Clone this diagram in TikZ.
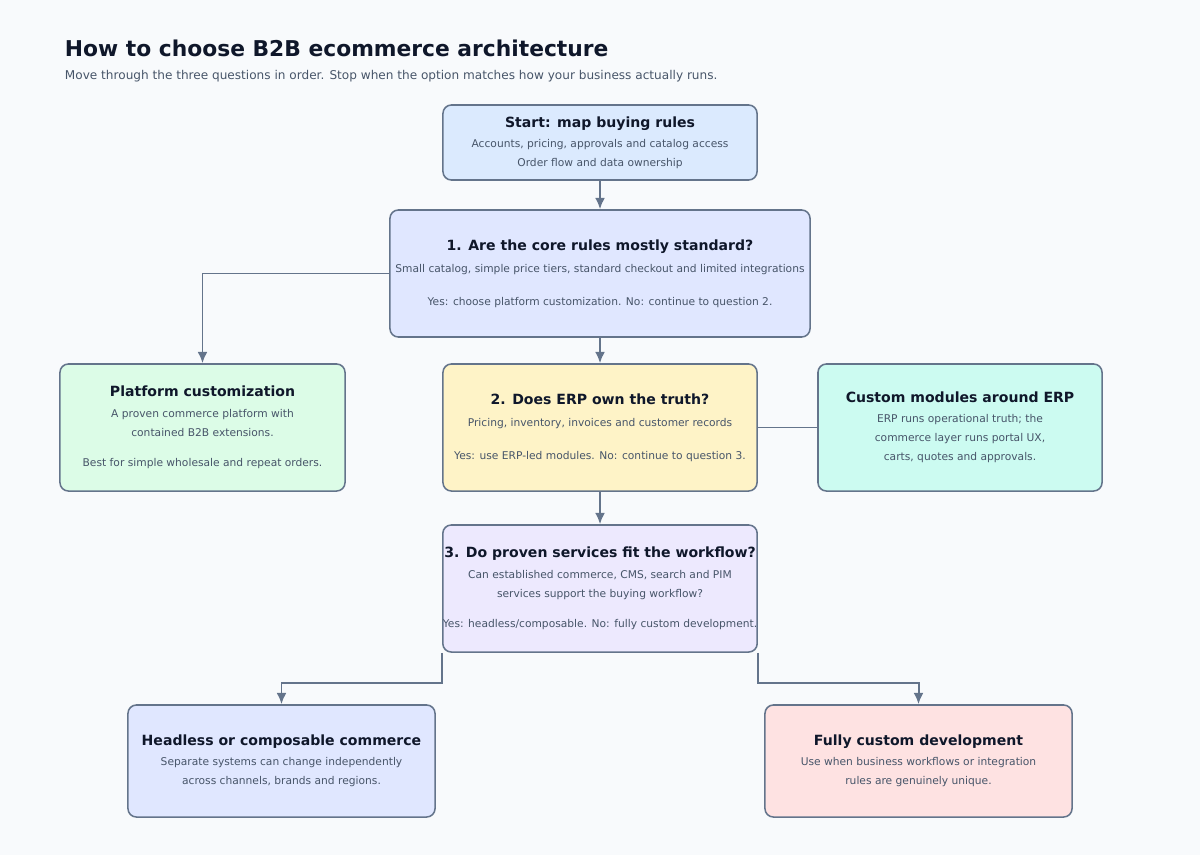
\documentclass[tikz,border=0pt]{standalone}
\usepackage{fontspec}
\setmainfont{DejaVu Sans}
\definecolor{bgc}{HTML}{F8FAFC}
\definecolor{edge}{HTML}{64748B}
\definecolor{ink}{HTML}{0F172A}
\definecolor{soft}{HTML}{475569}
\definecolor{cstart}{HTML}{DBEAFE}
\definecolor{cq}{HTML}{E0E7FF}
\definecolor{cplat}{HTML}{DCFCE7}
\definecolor{cerp}{HTML}{FEF3C7}
\definecolor{cmod}{HTML}{CCFBF1}
\definecolor{cthree}{HTML}{EDE9FE}
\definecolor{ccust}{HTML}{FEE2E2}
\tikzset{
  box/.style={draw=edge,line width=1.1pt,rounded corners=6pt,align=center,
    text=soft,font=\fontsize{7.6}{13.5}\selectfont,inner sep=0pt},
  link/.style={draw=edge,line width=1.4pt},
  arr/.style={link,-{Latex[length=8pt,width=7pt]}}
}
\usetikzlibrary{arrows.meta}
\newcommand{\hd}[1]{{\fontsize{10}{14}\selectfont\bfseries\color{ink}#1}}
\begin{document}
\begin{tikzpicture}[x=0.025cm,y=-0.025cm]
\fill[bgc] (0,0) rectangle (1200,855);
\node[anchor=west,text=ink,font=\fontsize{15.5}{18}\selectfont\bfseries](title) at (60,48) {How to choose B2B ecommerce architecture};
\node[anchor=west,text=soft,font=\fontsize{8.6}{11}\selectfont](sub) at (60,76) {Move through the three questions in order. Stop when the option matches how your business actually runs.};

\node[box,fill=cstart,minimum width=314\pgflinewidth/1.1*0+7.85cm,minimum height=1.875cm](start) at (600,142.5)
  {\hd{Start: map buying rules}\\[1pt]Accounts, pricing, approvals and catalog access\\Order flow and data ownership};
\node[box,fill=cq,minimum width=10.5cm,minimum height=3.175cm](q1) at (600,273.5)
  {\hd{1. Are the core rules mostly standard?}\\[2pt]Small catalog, simple price tiers, standard checkout and limited integrations\\[10pt]Yes: choose platform customization. No: continue to question 2.};
\node[box,fill=cplat,minimum width=7.125cm,minimum height=3.175cm](plat) at (202.5,427.5)
  {\hd{Platform customization}\\[1pt]A proven commerce platform with\\contained B2B extensions.\\[8pt]Best for simple wholesale and repeat orders.};
\node[box,fill=cerp,minimum width=7.85cm,minimum height=3.175cm](q2) at (600,427.5)
  {\hd{2. Does ERP own the truth?}\\[2pt]Pricing, inventory, invoices and customer records\\[10pt]Yes: use ERP-led modules. No: continue to question 3.};
\node[box,fill=cmod,minimum width=7.1cm,minimum height=3.175cm](mods) at (960,427.5)
  {\hd{Custom modules around ERP}\\[1pt]ERP runs operational truth; the\\commerce layer runs portal UX,\\carts, quotes and approvals.};
\node[box,fill=cthree,minimum width=7.85cm,minimum height=3.175cm](q3) at (600,588.5)
  {\hd{3. Do proven services fit the workflow?}\\[1pt]Can established commerce, CMS, search and PIM\\services support the buying workflow?\\[8pt]Yes: headless/composable. No: fully custom development.};
\node[box,fill=cq,minimum width=7.675cm,minimum height=2.8cm](head) at (281.5,761)
  {\hd{Headless or composable commerce}\\[1pt]Separate systems can change independently\\across channels, brands and regions.};
\node[box,fill=ccust,minimum width=7.675cm,minimum height=2.8cm](cust) at (918.5,761)
  {\hd{Fully custom development}\\[1pt]Use when business workflows or integration\\rules are genuinely unique.};

\draw[arr] (start) -- (q1);
\draw[arr] (q1.west) -| (plat.north);
\draw[arr] (q1) -- (q2);
\draw[link] (q2.east) -- (mods.west);
\draw[arr] (q2) -- (q3);
\draw[arr] (q3.south west) -- ++(0,30) -| (head.north);
\draw[arr] (q3.south east) -- ++(0,30) -| (cust.north);
\end{tikzpicture}
\end{document}
